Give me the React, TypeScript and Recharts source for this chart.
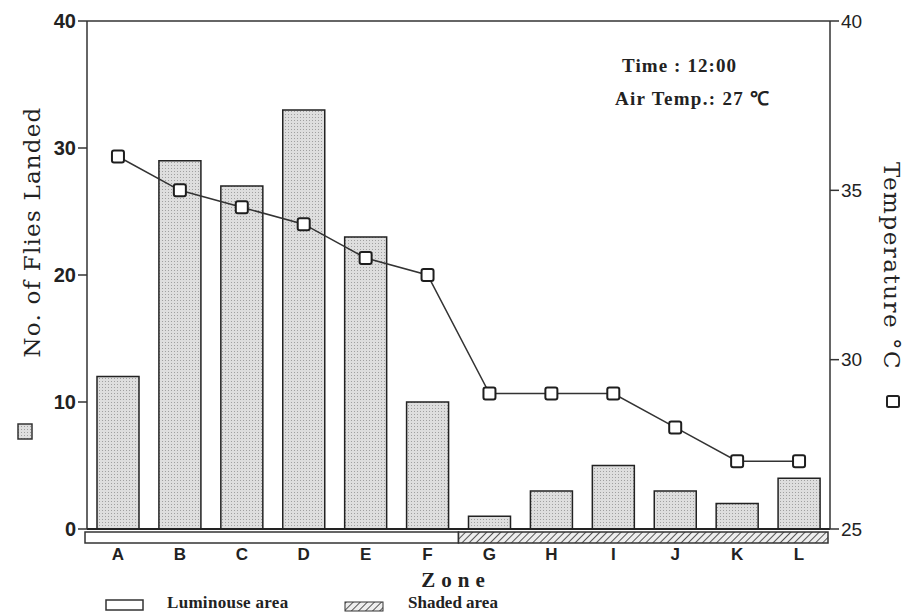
import { ComposedChart, Bar, Line, XAxis, YAxis, ReferenceLine } from "recharts"

// Datos de la figura: moscas posadas por zona y temperatura de superficie
const zones = ["A", "B", "C", "D", "E", "F", "G", "H", "I", "J", "K", "L"]
const fliesLanded = [12, 29, 27, 33, 23, 10, 1, 3, 5, 3, 2, 4]
const temperature = [36, 35, 34.5, 34, 33, 32.5, 29, 29, 29, 28, 27, 27]
const fliesTicks = [0, 10, 20, 30, 40]
const tempTicks = [25, 30, 35, 40]
const luminousCount = 6

const data = zones.map((zone, i) => ({
    zone,
    flies: fliesLanded[i],
    temp: temperature[i],
}))

const W = 909
const H = 612
const LEFT = 87
const RIGHT = 79
const TOP = 21
const BOTTOM = 83
const PLOT_W = W - LEFT - RIGHT

const serif = "'Liberation Serif', 'Times New Roman', serif"
const wideSerif = "'DejaVu Serif', serif"
const sans = "'Liberation Sans', Arial, sans-serif"

const SquareDot = (props: any) => {
    const { cx, cy } = props
    if (cx == null || cy == null) return null
    return (
        <rect x={cx - 6} y={cy - 6} width={12} height={12} rx={2}
            fill="#fff" stroke="#1e1e1e" strokeWidth={2} />
    )
}

// Etiqueta del eje X junto con la franja luminosa / sombreada
const ZoneTick = (props: any) => {
    const { x, y, payload, index } = props
    const band = PLOT_W / zones.length
    const left = x - band / 2
    let strip = null
    if (index === 0) {
        strip = <rect x={left - 2} y={y + 1} width={band * luminousCount + 2} height={11}
            fill="#fff" stroke="#333" strokeWidth={1.5} />
    } else if (index === luminousCount) {
        strip = <rect x={left} y={y + 1} width={band * (zones.length - luminousCount) - 2} height={11}
            fill="url(#hatch)" stroke="#333" strokeWidth={1.5} />
    }
    return (
        <g>
            {strip}
            <text x={x} y={y + 29} textAnchor="middle" fontFamily={sans}
                fontWeight="bold" fontSize={17} fill="#222">
                {payload.value}
            </text>
        </g>
    )
}

export default function App() {
    return (
        <div style={{ position: "absolute", left: 0, top: 0, width: W, height: H, background: "#fff" }}>
            <ComposedChart width={W} height={H} data={data}
                margin={{ top: TOP, right: 0, left: 0, bottom: 0 }}>
                <defs>
                    <pattern id="dots" width="3" height="3" patternUnits="userSpaceOnUse">
                        <rect width="3" height="3" fill="#dedede" />
                        <rect width="1" height="1" fill="#a0a0a0" />
                    </pattern>
                    <pattern id="hatch" width="5" height="5" patternUnits="userSpaceOnUse"
                        patternTransform="rotate(45)">
                        <rect width="5" height="5" fill="#eeeeee" />
                        <line x1="0" y1="0" x2="0" y2="5" stroke="#444" strokeWidth="1.8" />
                    </pattern>
                </defs>
                <XAxis dataKey="zone" height={BOTTOM} tickLine={false} tickSize={0}
                    axisLine={{ stroke: "#222", strokeWidth: 2 }} tick={<ZoneTick />}
                    interval={0} />
                <YAxis yAxisId="left" width={LEFT} domain={[0, 40]} ticks={fliesTicks}
                    axisLine={{ stroke: "#333", strokeWidth: 1.5 }} tickSize={9}
                    tickLine={{ stroke: "#333", strokeWidth: 1.5 }}
                    tick={{ fill: "#222", fontSize: 20, fontFamily: sans, fontWeight: "bold" }} />
                <YAxis yAxisId="right" orientation="right" width={RIGHT} domain={[25, 40]}
                    ticks={tempTicks} axisLine={{ stroke: "#333", strokeWidth: 1.5 }} tickSize={9}
                    tickLine={{ stroke: "#333", strokeWidth: 1.5 }}
                    tick={{ fill: "#222", fontSize: 19, fontFamily: sans }} />
                <ReferenceLine yAxisId="left" y={40} stroke="#333" strokeWidth={1.5} />
                <Bar yAxisId="left" dataKey="flies" barSize={42} fill="url(#dots)"
                    stroke="#222" strokeWidth={1.5} isAnimationActive={false} />
                <Line yAxisId="right" dataKey="temp" stroke="#333" strokeWidth={1.5}
                    dot={<SquareDot />} activeDot={false} isAnimationActive={false} />
            </ComposedChart>

            <svg width={W} height={H} style={{ position: "absolute", left: 0, top: 0, pointerEvents: "none" }}>
                <text x={32} y={232} transform="rotate(-90 32 232)" textAnchor="middle"
                    dominantBaseline="central" fontFamily={wideSerif} fontSize={23}
                    letterSpacing={1.2} fill="#222">
                    No. of Flies Landed
                </text>
                <rect x={18} y={424} width={14} height={15} fill="url(#dots)" stroke="#333" strokeWidth={1.5} />

                <text x={892} y={266} transform="rotate(90 892 266)" textAnchor="middle"
                    dominantBaseline="central" fontFamily={wideSerif} fontSize={23}
                    letterSpacing={1.5} fill="#222">
                    Temperature °C
                </text>
                <rect x={887} y={396} width={12} height={11} rx={1.5} fill="#fff" stroke="#222" strokeWidth={2} />

                <text x={622} y={72} fontFamily={serif} fontWeight="bold" fontSize={19}
                    letterSpacing={1.1} fill="#222">
                    Time : 12:00
                </text>
                <text x={615} y={105} fontFamily={serif} fontWeight="bold" fontSize={19}
                    letterSpacing={1.3} fill="#222">
                    Air Temp.: 27 ℃
                </text>

                <text x={456} y={587} textAnchor="middle" fontFamily={serif} fontWeight="bold"
                    fontSize={21} letterSpacing={6} fill="#222">
                    Zone
                </text>

                <rect x={106} y={600} width={37} height={10} fill="#fff" stroke="#333" strokeWidth={1.5} />
                <text x={167} y={608} fontFamily={serif} fontWeight="bold" fontSize={17}
                    letterSpacing={0.3} fill="#222">
                    Luminouse area
                </text>
                <rect x={345} y={602} width={38} height={9} fill="url(#hatch)" stroke="#333" strokeWidth={1} />
                <text x={408} y={608} fontFamily={serif} fontWeight="bold" fontSize={17} fill="#222">
                    Shaded area
                </text>
            </svg>
        </div>
    )
}
